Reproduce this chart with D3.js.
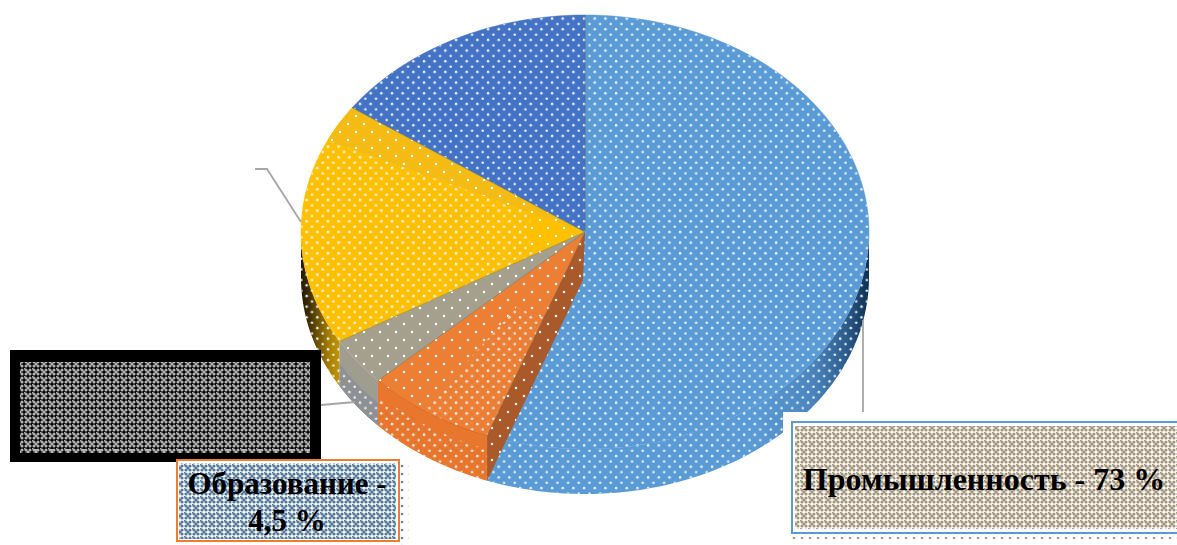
<!DOCTYPE html>
<html><head><meta charset="utf-8">
<script src="https://cdn.jsdelivr.net/npm/d3@7"></script>
<style>html,body{margin:0;padding:0;background:#fff;overflow:hidden}svg{display:block}</style>
</head><body><svg id="c" width="1177" height="545"></svg>
<script>
const sliceKeys = ["industry","orange","gray","yellow","navy"];
const sliceShares = [55.6,7.4,3.6,18.1,15.3];
const topColors = ["#5b9bd5","#ed7f35","#a5a08e","#ffc000","#4472c4"];
const labelLines1 = ["Промышленность - 73 %"];
const labelLines2 = ["Образование -","4,5 %"];

const svg = d3.select("#c");
const defs = svg.append("defs");
const cx=585, cy=232, rx=284, ry=217, depth=45;
const X=d3.scaleLinear().domain([-1,1]).range([cx-rx,cx+rx]);
const Y=d3.scaleLinear().domain([-1,1]).range([cy-ry,cy+ry]);
const pie=d3.pie().sort(null).value(d=>d)(sliceShares);
const ang=i=>[pie[i].startAngle,pie[i].endAngle];
const pt=(a,k=1,dz=0)=>[X(k*Math.sin(a)),Y(-k*Math.cos(a))+dz];
const line=d3.line();
const samples=(a0,a1,k=1,dz=0)=>{const n=Math.max(2,Math.ceil(Math.abs(a1-a0)*60));
  return d3.range(n+1).map(j=>pt(a0+(a1-a0)*j/n,k,dz));};
const wedge=(a0,a1,k0=0,k1=1)=>line([...samples(a0,a1,k1),...(k0>0?samples(a1,a0,k0):[[cx,cy]])])+"Z";
const wall=(a0,a1)=>line([...samples(a0,a1,1,0),...samples(a1,a0,1,depth)])+"Z";
const rad=d=>d*Math.PI/180;

function dots(id,size,pts,r,col,bg){
  const p=defs.append("pattern").attr("id",id).attr("patternUnits","userSpaceOnUse").attr("width",size).attr("height",size);
  if(bg)p.append("rect").attr("width",size).attr("height",size).attr("fill",bg);
  pts.forEach(q=>p.append("circle").attr("cx",q[0]).attr("cy",q[1]).attr("r",r).attr("fill",col));
}
dots("dense",10.67,[[2.6,2.6],[7.9,7.9]],1.25,"#eaf4fb");
dots("sparse",16,[[4,4],[12,12]],1.2,"#fff");
const lattice=[[0,0],[2,2],[4,4],[6,6],[6,2],[2,6]];
dots("tan",8,lattice,1.6,"#a5957a","#fff");
dots("steel",8,lattice,1.6,"#54799b","#fff");
dots("grayk",8,lattice,1.55,"#b2b2b2","#000");
dots("tanEdge",8,[[2,2]],1.3,"#ac9d84");
dots("steelEdge",8,[[2,2]],1.3,"#5f84a4");
dots("grayEdge",16,[[4,2]],1.4,"#b8b8b8");

function grad(id,stops){
  const g=defs.append("linearGradient").attr("id",id).attr("gradientUnits","userSpaceOnUse")
   .attr("x1",cx-rx).attr("x2",cx+rx).attr("y1",0).attr("y2",0);
  stops.forEach(s=>g.append("stop").attr("offset",s[0]).attr("stop-color",s[1]));
}
grad("blueWall",[[0,"#5b9bd5"],[0.8,"#5b9bd5"],[0.9,"#4b85bd"],[0.96,"#2c5c8c"],[1,"#0e2f50"]]);
grad("yellowWall",[[0,"#241a00"],[0.012,"#3a2a00"],[0.05,"#a88000"],[0.09,"#e0aa08"],[0.13,"#f2b705"],[1,"#f2b705"]]);

const g=svg.append("g");
const add=(d,fill,extra)=>{const e=g.append("path").attr("d",d).attr("fill",fill);if(extra)extra(e);return e;};

const [b0,b1]=ang(0),[o0,o1]=ang(1),[a0,a1]=ang(2),[y0,y1]=ang(3),[n0,n1]=ang(4);
add(wall(rad(90),b1),"url(#blueWall)");add(wall(rad(90),b1),"url(#dense)");
add(wall(y0,rad(270)),"url(#yellowWall)");add(wall(y0,rad(270)),"url(#dense)");
add(wall(a0,a1),"#9f9c90");
add(line([...samples(a0,a1,1,depth*0.5),...samples(a1,a0,1,depth)])+"Z","#8f9094");
add(line([...samples(a0,a1,1,depth*0.5),...samples(a1,a0,1,depth)])+"Z","url(#dense)");
add(wall(o0,o1),"#e8762c");
add(line([...samples(o0,o1,1,depth*0.3),...samples(o1,o0,1,depth)])+"Z","url(#dense)");

pie.forEach((p,i)=>add(wedge(p.startAngle,p.endAngle),topColors[i]).attr("stroke",topColors[i]).attr("stroke-width",0.5));
[0,4].forEach(i=>add(wedge(...ang(i)),"url(#dense)"));
add(wedge(rad(295),y1),"#f3bb14");
add(wedge(y0,rad(295),0.2,1),"url(#dense)");
add(wedge(rad(295),y1),"url(#sparse)");
add(wedge(y0,rad(295),0,0.2),"url(#sparse)");
add(wedge(a0,a1),"url(#sparse)");
const oSplit=o0+(o1-o0)*0.55;
add(wedge(oSplit,o1),"url(#sparse)");
add(wedge(o0,oSplit,0,0.42),"url(#sparse)");
add(wedge(o0,oSplit,0.42,1),"url(#dense)");
pie.forEach(p=>{
  add(line([[cx,cy],pt(p.endAngle)]),"none",e=>e.attr("stroke","#6b6548").attr("stroke-opacity",0.45).attr("stroke-width",1));
});
const cut=line([[cx,cy],pt(b1),pt(b1,1,depth),[cx-2,cy+depth+3]])+"Z";
add(cut,"#a9592a");
add(cut,"url(#sparse)");
add(line(samples(o0,o1)),"none",e=>e.attr("stroke","#d86c24").attr("stroke-width",1));

const lead=[[[863,320],[863,412]],[[255,169],[267,169],[301,222]],[[321,405],[355,402]]];
lead.forEach(l=>svg.append("path").attr("d",line(l)).attr("fill","none").attr("stroke","#a6a6a6").attr("stroke-width",1.8));

svg.append("rect").attr("x",10).attr("y",350).attr("width",311).attr("height",112).attr("fill","#000");
svg.append("rect").attr("x",20).attr("y",362).attr("width",290).attr("height",91).attr("fill","url(#grayk)");
svg.append("rect").attr("x",24).attr("y",358).attr("width",286).attr("height",4).attr("fill","url(#grayEdge)");
svg.append("rect").attr("x",24).attr("y",449).attr("width",286).attr("height",8).attr("fill","url(#grayEdge)");

svg.append("rect").attr("x",177).attr("y",460).attr("width",222).attr("height",81).attr("fill","#fff");
svg.append("rect").attr("x",179).attr("y",463).attr("width",217).attr("height",76).attr("fill","url(#steel)");
svg.append("rect").attr("x",400).attr("y",460).attr("width",9).attr("height",85).attr("fill","url(#steelEdge)");
svg.append("rect").attr("x",177).attr("y",460).attr("width",222).attr("height",81).attr("fill","none").attr("stroke","#ed7d31").attr("stroke-width",2);

svg.append("rect").attr("x",783).attr("y",412).attr("width",394).attr("height",133).attr("fill","#fff");
svg.append("rect").attr("x",795).attr("y",426).attr("width",382).attr("height",103).attr("fill","url(#tan)");
svg.append("rect").attr("x",791).attr("y",535).attr("width",386).attr("height",9).attr("fill","url(#tanEdge)");
svg.append("rect").attr("x",792).attr("y",422).attr("width",390).attr("height",111).attr("fill","none").attr("stroke","#5b9bd5").attr("stroke-width",2);

const txt=(s,x,y,size)=>svg.append("text").text(s).attr("x",x).attr("y",y).attr("text-anchor","middle")
  .attr("font-family","'Liberation Serif',serif").attr("font-weight","700").attr("font-size",size).attr("fill","#000").attr("xml:space","preserve");
txt(labelLines1[0],984,490,32);
txt(labelLines2[0],287,494,31);
txt(labelLines2[1],287,531,31);
</script></body></html>
